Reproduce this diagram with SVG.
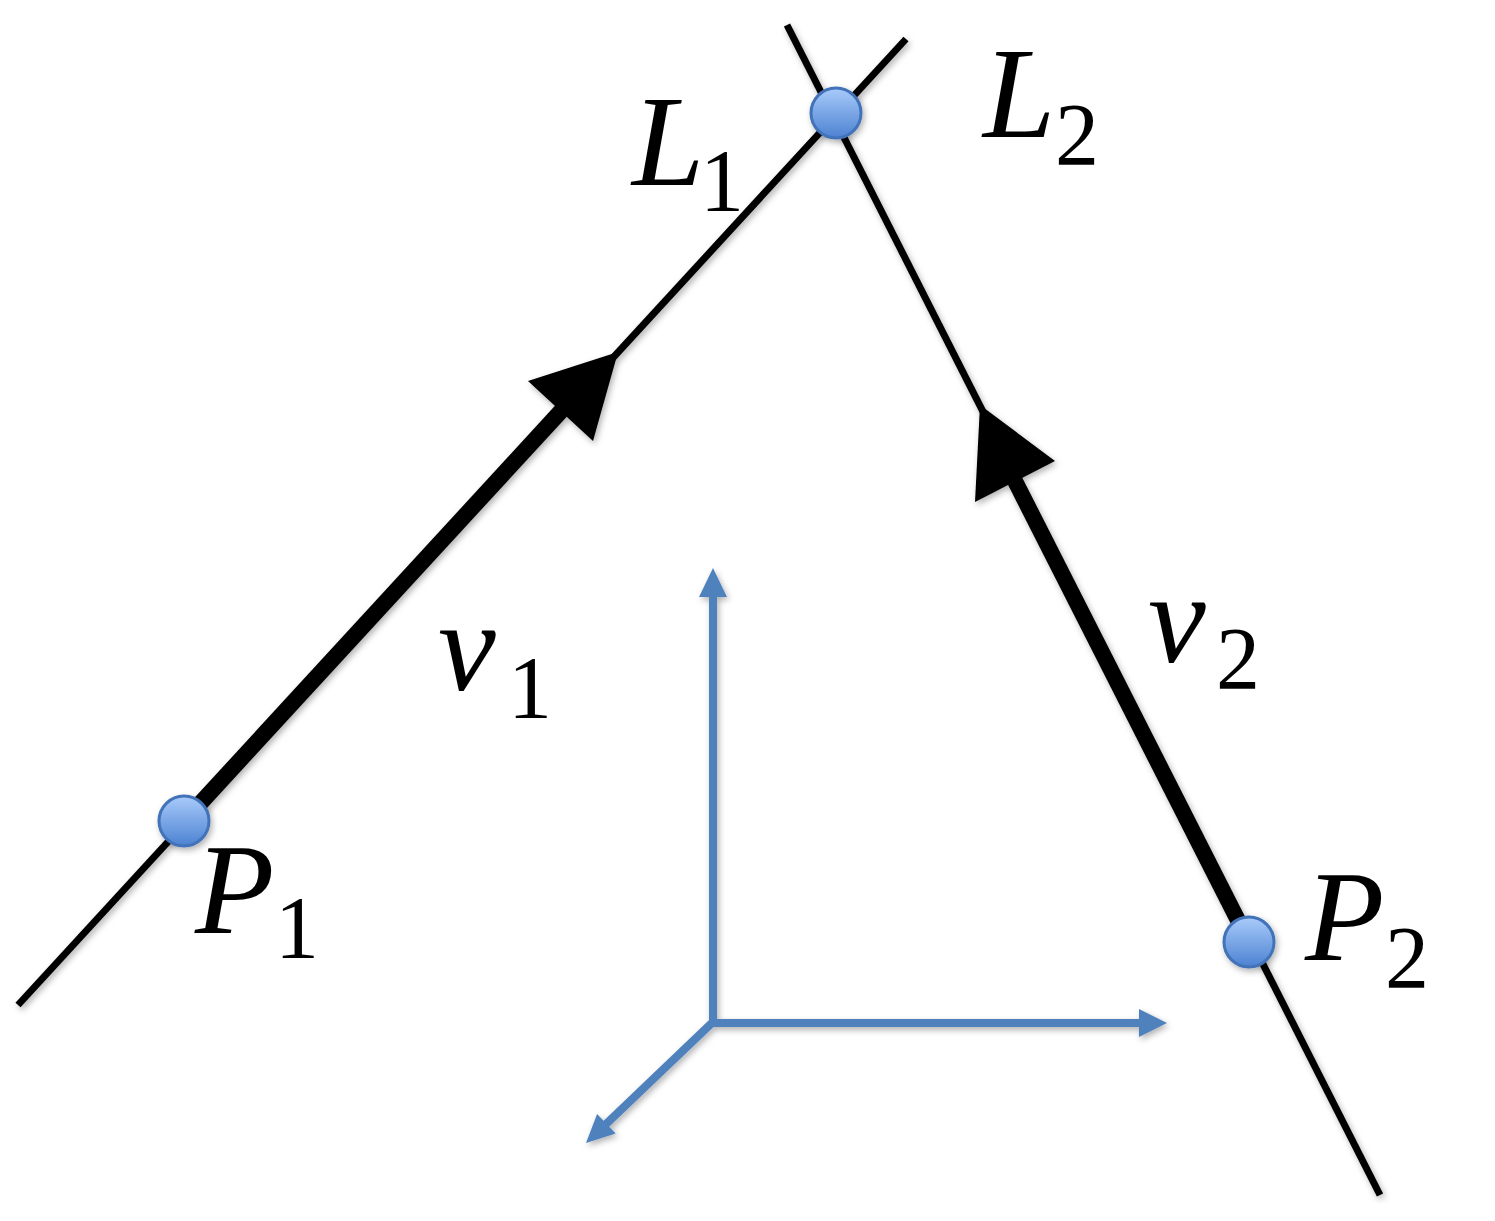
<svg xmlns="http://www.w3.org/2000/svg" width="1495" height="1221" viewBox="0 0 1495 1221">
  <defs>
    <linearGradient id="ball" x1="0" y1="0" x2="0" y2="1">
      <stop offset="0" stop-color="#A9CBFA"/>
      <stop offset="1" stop-color="#4C82D2"/>
    </linearGradient>
    <filter id="sh" x="-20%" y="-20%" width="140%" height="140%">
      <feDropShadow dx="2" dy="3" stdDeviation="3" flood-color="#000" flood-opacity="0.3"/>
    </filter>
    <style>
      .thin{stroke:#000;stroke-width:7;fill:none}
      .thick{stroke:#000;stroke-width:16;fill:none}
      .head{fill:#000}
      .ax{stroke:#4F81BD;stroke-width:8;fill:none}
      .axh{fill:#4F81BD}
      .pt{fill:url(#ball);stroke:#4373B9;stroke-width:3}
      .m{font-family:"Liberation Serif","DejaVu Serif",serif;font-style:italic;font-size:130px;fill:#000}
      .s{font-family:"Liberation Serif","DejaVu Serif",serif;font-style:normal;font-size:88px}
    </style>
  </defs>
  <rect width="1495" height="1221" fill="#fff"/>
  <g id="connectors" filter="url(#sh)">
    <line class="thin" x1="18" y1="1005" x2="906" y2="39"/>
    <line class="thin" x1="787" y1="25" x2="1380" y2="1195"/>
    <line class="thick" x1="184" y1="821" x2="562" y2="410"/>
    <polygon class="head" points="618,352 528,381 593,441"/>
    <line class="thick" x1="1249" y1="942" x2="1015" y2="481"/>
    <polygon class="head" points="980,405 1055,461 975,502"/>
  </g>
  <g id="axes" filter="url(#sh)">
    <line class="ax" x1="713" y1="1027" x2="713" y2="594"/>
    <polygon class="axh" points="713,568 699,597 727,597"/>
    <line class="ax" x1="709" y1="1023" x2="1142" y2="1023"/>
    <polygon class="axh" points="1167,1023 1139,1009 1139,1037"/>
    <line class="ax" x1="715" y1="1020" x2="604" y2="1126"/>
    <polygon class="axh" points="586,1143 615.7,1133.6 597.1,1114"/>
  </g>
  <g id="L1-L2" filter="url(#sh)">
    <circle class="pt" cx="836" cy="113" r="25"/>
  </g>
  <g id="P1" filter="url(#sh)">
    <circle class="pt" cx="184" cy="821" r="25"/>
  </g>
  <g id="P2" filter="url(#sh)">
    <circle class="pt" cx="1249" cy="942" r="25"/>
  </g>
  <g id="labels">
    <text class="m" x="632" y="185">L<tspan class="s" x="700" y="210">1</tspan></text>
    <text class="m" x="983" y="137">L<tspan class="s" x="1055" y="164">2</tspan></text>
    <text class="m" x="195" y="933">P<tspan class="s" x="275" y="957">1</tspan></text>
    <text class="m" x="1305" y="960">P<tspan class="s" x="1385" y="987">2</tspan></text>
    <text class="m" x="438" y="690">v<tspan class="s" x="508" y="717">1</tspan></text>
    <text class="m" x="1148" y="662">v<tspan class="s" x="1216" y="688">2</tspan></text>
  </g>
</svg>
